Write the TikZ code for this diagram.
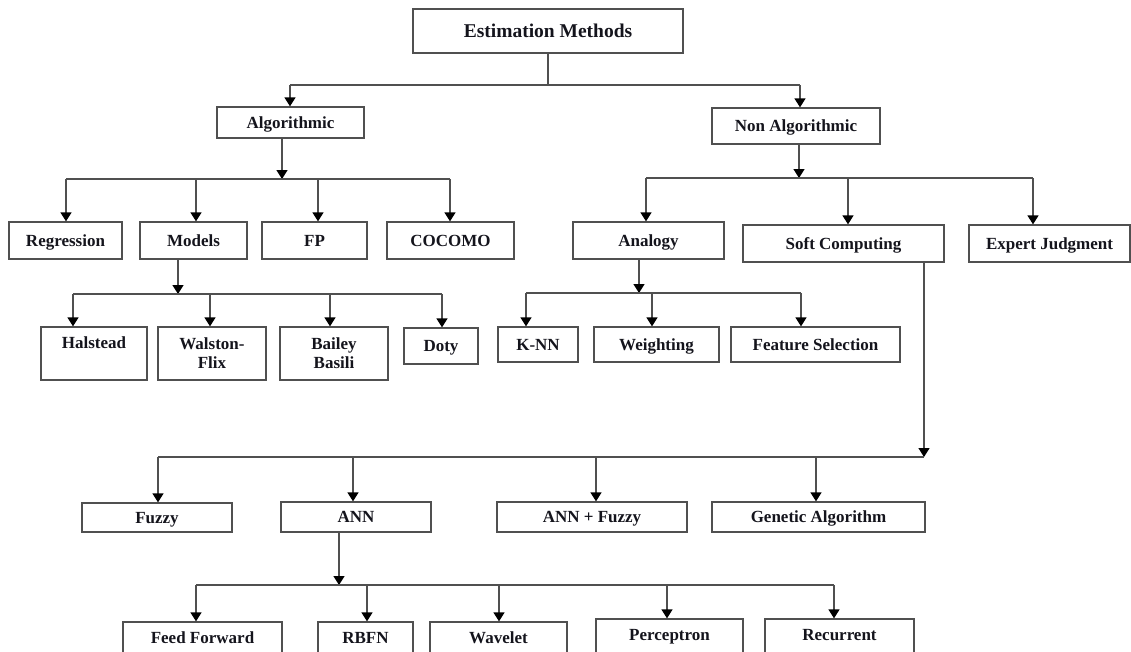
\documentclass[tikz,border=0pt]{standalone}
\usepackage{fontspec}
\setmainfont{Liberation Serif}
\usetikzlibrary{arrows.meta}
\definecolor{linegray}{RGB}{80,80,80}
\definecolor{inkdark}{RGB}{20,20,28}
% \bx[options]{name}{left}{top}{right}{bottom}{text}
\newcommand\bx[7][]{%
  \node[box,minimum width={#5-#3},minimum height={#6-#4},#1] (#2)
    at ({(#3+#5)/2},{(#4+#6)/2}) {#7};}
\begin{document}
\begin{tikzpicture}[x=1pt,y=-1pt,
  wire/.style={draw=linegray,line width=1.4pt},
  arr/.style={wire,-{Triangle[width=11pt,length=9pt,color=black]}},
  box/.style={draw=linegray,line width=1.3pt,rectangle,inner sep=0pt,
    text=inkdark,font=\bfseries\fontsize{17}{19}\selectfont,
    text height=11.3pt,text depth=0pt,align=center},
  twoline/.style={text height=,text depth=}
]
\useasboundingbox (0,0) rectangle (1131,651);
\clip (0,0) rectangle (1131,651);

% ---- boxes ----
\bx[font=\bfseries\fontsize{19.5}{22}\selectfont,text height=13pt]{est}{413}{9}{683}{53}{Estimation Methods}
\bx{alg}{217}{107}{364}{138}{Algorithmic}
\bx{nonalg}{712}{108}{880}{144}{Non Algorithmic}

\bx{reg}{9}{222}{122}{259}{Regression}
\bx{models}{140}{222}{247}{259}{Models}
\bx{fp}{262}{222}{367}{259}{FP}
\bx{cocomo}{387}{222}{514}{259}{COCOMO}
\bx{analogy}{573}{222}{724}{259}{Analogy}
\bx{soft}{743}{225}{944}{262}{Soft Computing}
\bx{expert}{969}{225}{1130}{262}{Expert Judgment}

\bx[text depth=21pt]{halstead}{41}{327}{147}{380}{Halstead}
\bx[twoline]{walston}{158}{327}{266}{380}{Walston-\\Flix}
\bx[twoline]{bailey}{280}{327}{388}{380}{Bailey\\Basili}
\bx{doty}{404}{328}{478}{364}{Doty}
\bx{knn}{498}{327}{578}{362}{K-NN}
\bx{weight}{594}{327}{719}{362}{Weighting}
\bx{featsel}{731}{327}{900}{362}{Feature Selection}

\bx{fuzzy}{82}{503}{232}{532}{Fuzzy}
\bx{ann}{281}{502}{431}{532}{ANN}
\bx{annfuzzy}{497}{502}{687}{532}{ANN + Fuzzy}
\bx{genetic}{712}{502}{925}{532}{Genetic Algorithm}

% bottom row runs past the lower edge
\bx[text depth=3pt]{ff}{123}{622}{282}{656}{Feed Forward}
\bx[text depth=3pt]{rbfn}{318}{622}{413}{656}{RBFN}
\bx[text depth=3pt]{wavelet}{430}{622}{567}{656}{Wavelet}
\bx[text depth=6pt]{perc}{596}{619}{743}{656}{Perceptron}
\bx[text depth=6pt]{recur}{765}{619}{914}{656}{Recurrent}

% ---- Estimation Methods -> two families ----
\coordinate (eL) at (290,85);
\coordinate (eR) at (800,85);
\draw[wire] (est.south) -- (est.south |- eL);
\draw[wire] (eL) -- (eR);
\draw[arr] (eL) -- (eL |- alg.north);
\draw[arr] (eR) -- (eR |- nonalg.north);

% ---- Algorithmic ----
\coordinate (aJ) at (282,179);
\coordinate (a1) at (66,179);
\coordinate (a2) at (196,179);
\coordinate (a3) at (318,179);
\coordinate (a4) at (450,179);
\draw[arr] (aJ |- alg.south) -- (aJ);
\draw[wire] (a1) -- (a4);
\draw[arr] (a1) -- (a1 |- reg.north);
\draw[arr] (a2) -- (a2 |- models.north);
\draw[arr] (a3) -- (a3 |- fp.north);
\draw[arr] (a4) -- (a4 |- cocomo.north);

% ---- Models ----
\coordinate (mJ) at (178,294);
\coordinate (m1) at (73,294);
\coordinate (m2) at (210,294);
\coordinate (m3) at (330,294);
\coordinate (m4) at (442,294);
\draw[arr] (mJ |- models.south) -- (mJ);
\draw[wire] (m1) -- (m4);
\draw[arr] (m1) -- (m1 |- halstead.north);
\draw[arr] (m2) -- (m2 |- walston.north);
\draw[arr] (m3) -- (m3 |- bailey.north);
\draw[arr] (m4) -- (m4 |- doty.north);

% ---- Non Algorithmic ----
\coordinate (nJ) at (799,178);
\coordinate (n1) at (646,178);
\coordinate (n2) at (848,178);
\coordinate (n3) at (1033,178);
\draw[arr] (nJ |- nonalg.south) -- (nJ);
\draw[wire] (n1) -- (n3);
\draw[arr] (n1) -- (n1 |- analogy.north);
\draw[arr] (n2) -- (n2 |- soft.north);
\draw[arr] (n3) -- (n3 |- expert.north);

% ---- Analogy ----
\coordinate (gJ) at (639,293);
\coordinate (g1) at (526,293);
\coordinate (g2) at (652,293);
\coordinate (g3) at (801,293);
\draw[arr] (gJ |- analogy.south) -- (gJ);
\draw[wire] (g1) -- (g3);
\draw[arr] (g1) -- (g1 |- knn.north);
\draw[arr] (g2) -- (g2 |- weight.north);
\draw[arr] (g3) -- (g3 |- featsel.north);

% ---- Soft Computing ----
\coordinate (sJ) at (924,457);
\coordinate (s1) at (158,457);
\coordinate (s2) at (353,457);
\coordinate (s3) at (596,457);
\coordinate (s4) at (816,457);
\draw[arr] (sJ |- soft.south) -- (sJ);
\draw[wire] (s1) -- (sJ);
\draw[arr] (s1) -- (s1 |- fuzzy.north);
\draw[arr] (s2) -- (s2 |- ann.north);
\draw[arr] (s3) -- (s3 |- annfuzzy.north);
\draw[arr] (s4) -- (s4 |- genetic.north);

% ---- ANN ----
\coordinate (rJ) at (339,585);
\coordinate (r1) at (196,585);
\coordinate (r2) at (367,585);
\coordinate (r3) at (499,585);
\coordinate (r4) at (667,585);
\coordinate (r5) at (834,585);
\draw[arr] (rJ |- ann.south) -- (rJ);
\draw[wire] (r1) -- (r5);
\draw[arr] (r1) -- (r1 |- ff.north);
\draw[arr] (r2) -- (r2 |- rbfn.north);
\draw[arr] (r3) -- (r3 |- wavelet.north);
\draw[arr] (r4) -- (r4 |- perc.north);
\draw[arr] (r5) -- (r5 |- recur.north);
\end{tikzpicture}
\end{document}
